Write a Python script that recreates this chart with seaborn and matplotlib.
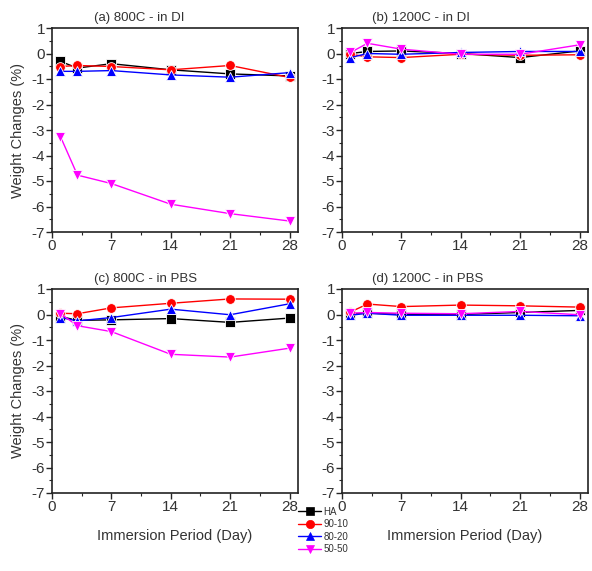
import matplotlib
matplotlib.use("Agg")
import matplotlib.pyplot as plt
from matplotlib.ticker import MultipleLocator
from matplotlib.lines import Line2D
import seaborn as sns
import pandas as pd

sns.set_style("ticks")
plt.rcParams['font.family'] = ['Liberation Sans', 'DejaVu Sans']
plt.rcParams['axes.unicode_minus'] = False

days = [1, 3, 7, 14, 21, 28]
samples = ["HA", "90-10", "80-20", "50-50"]
panel_titles = ["(a) 800C - in DI", "(b) 1200C - in DI", "(c) 800C - in PBS", "(d) 1200C - in PBS"]

a_HA = [-0.31, -0.57, -0.40, -0.64, -0.80, -0.88]
a_9010 = [-0.51, -0.47, -0.51, -0.64, -0.47, -0.94]
a_8020 = [-0.70, -0.70, -0.67, -0.84, -0.93, -0.75]
a_5050 = [-3.26, -4.77, -5.10, -5.91, -6.28, -6.57]

b_HA = [0.00, 0.08, 0.10, 0.00, -0.16, 0.10]
b_9010 = [-0.03, -0.13, -0.16, -0.03, -0.07, -0.05]
b_8020 = [-0.16, 0.00, -0.03, 0.04, 0.08, 0.08]
b_5050 = [0.04, 0.40, 0.17, -0.03, -0.03, 0.34]

c_HA = [-0.08, -0.23, -0.21, -0.16, -0.31, -0.14]
c_9010 = [0.05, 0.03, 0.26, 0.44, 0.61, 0.60]
c_8020 = [-0.12, -0.25, -0.12, 0.21, -0.01, 0.42]
c_5050 = [0.03, -0.44, -0.67, -1.56, -1.67, -1.32]

d_HA = [0.03, 0.05, 0.01, 0.00, 0.08, 0.16]
d_9010 = [0.10, 0.41, 0.31, 0.37, 0.34, 0.29]
d_8020 = [-0.03, 0.05, -0.03, -0.03, -0.03, -0.05]
d_5050 = [0.05, 0.08, 0.05, 0.03, 0.12, -0.01]

panels = [
    [a_HA, a_9010, a_8020, a_5050],
    [b_HA, b_9010, b_8020, b_5050],
    [c_HA, c_9010, c_8020, c_5050],
    [d_HA, d_9010, d_8020, d_5050],
]

palette = {"HA": "#000000", "90-10": "#ff0000", "80-20": "#0000ff", "50-50": "#ff00ff"}
markers = {"HA": "s", "90-10": "o", "80-20": "^", "50-50": "v"}
text_color = "#333333"

fig = plt.figure(figsize=(5.92, 5.71), dpi=100)
W, H = 592, 571
w_ax = 246 / W
positions = [
    (52 / W, 1 - 232 / H, w_ax, 204 / H),
    (342 / W, 1 - 232 / H, w_ax, 204 / H),
    (52 / W, 1 - 493 / H, w_ax, 204 / H),
    (342 / W, 1 - 493 / H, w_ax, 204 / H),
]

for i, (pos, series) in enumerate(zip(positions, panels)):
    ax = fig.add_axes(pos)
    rows = []
    for s, vals in zip(samples, series):
        for d, v in zip(days, vals):
            rows.append({"day": d, "wc": v, "sample": s})
    df = pd.DataFrame(rows)
    sns.lineplot(data=df, x="day", y="wc", hue="sample", style="sample",
                 hue_order=samples, style_order=samples,
                 palette=palette, markers=markers, dashes=False,
                 markersize=7, linewidth=1.0, markeredgewidth=0.6,
                 ax=ax, legend=False)
    ax.set_xlim(0, 29)
    ax.set_ylim(-7, 1)
    ax.xaxis.set_major_locator(MultipleLocator(7))
    ax.xaxis.set_minor_locator(MultipleLocator(3.5))
    ax.yaxis.set_major_locator(MultipleLocator(1))
    ax.yaxis.set_minor_locator(MultipleLocator(0.5))
    ax.tick_params(axis='both', which='major', direction='out', length=4,
                   width=1, labelsize=11, labelcolor=text_color, pad=1)
    ax.tick_params(axis='both', which='minor', direction='out', length=2, width=0.8)
    for sp in ax.spines.values():
        sp.set_linewidth(1.2)
        sp.set_color("#222222")
    ax.set_xlabel("")
    ax.set_ylabel("")
    ax.text(0.17 if i % 2 == 0 else 0.12, 1.02, panel_titles[i], transform=ax.transAxes,
            fontsize=9.5, color=text_color, ha='left', va='bottom')
    if i % 2 == 0:
        ax.set_ylabel("Weight Changes (%)", fontsize=10.5, color=text_color, labelpad=5)
    if i >= 2:
        ax.set_xlabel("Immersion Period (Day)", fontsize=10.5, color=text_color, labelpad=11)

handles = [Line2D([0], [0], color=palette[s], marker=markers[s], markersize=6,
                  linewidth=1.0, markeredgewidth=0.5) for s in samples]
fig.legend(handles, samples, loc='upper left', bbox_to_anchor=(293 / W, 1 - 502 / H),
           frameon=False, fontsize=7, labelcolor=text_color, handlelength=2.4,
           handletextpad=0.2, labelspacing=0.25, borderpad=0)

fig.savefig("out.png", dpi=100)
